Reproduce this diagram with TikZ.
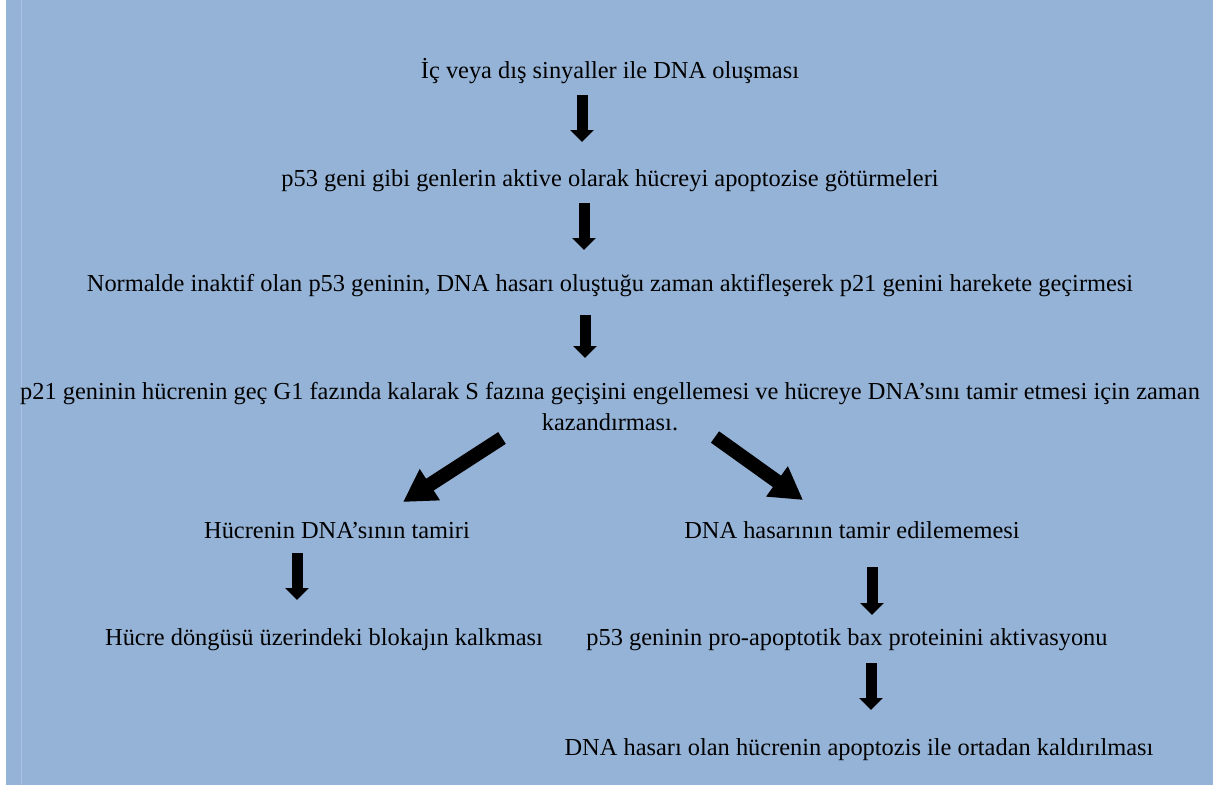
\documentclass[tikz,border=0pt]{standalone}
\usepackage{fontspec}
\setmainfont{Liberation Serif}
\usetikzlibrary{arrows.meta,calc}
\definecolor{panel}{HTML}{95B3D7}

\begin{document}
\begin{tikzpicture}[x=0.5pt,y=-0.5pt,
  txt/.style={anchor=base,inner sep=0pt,font=\fontsize{12.2}{15.5}\selectfont},
  blk/.style={line width=5.5pt,-{Triangle[width=11.5pt,length=6pt]}},
  bigblk/.style={line width=7pt,-{Triangle[width=17.5pt,length=16pt]}}]
\useasboundingbox (0,0) rectangle (1220,787);
\fill[panel] (6,0) rectangle (1213,785);
\draw[panel!80!white,line width=0.6pt] (21.5,0) -- (21.5,785);

\node[txt] (sig) at (610,78) {İç veya dış sinyaller ile DNA oluşması};
\node[txt] (gen) at (610,186) {p53 geni gibi genlerin aktive olarak hücreyi apoptozise götürmeleri};
\node[txt] (p53) at (610,291) {Normalde inaktif olan p53 geninin, DNA hasarı oluştuğu zaman aktifleşerek p21 genini harekete geçirmesi};
\node[txt,align=center] (p21) at (610,430) {p21 geninin hücrenin geç G1 fazında kalarak S fazına geçişini engellemesi ve hücreye DNA’sını tamir etmesi için zaman\\kazandırması.};
\node[txt] (tam) at (337,538) {Hücrenin DNA’sının tamiri};
\node[txt] (has) at (852,538) {DNA hasarının tamir edilememesi};
\node[txt] (blok) at (324,645) {Hücre döngüsü üzerindeki blokajın kalkması};
\node[txt] (bax) at (847,645) {p53 geninin pro-apoptotik bax proteinini aktivasyonu};
\node[txt] (apo) at (859,755) {DNA hasarı olan hücrenin apoptozis ile ortadan kaldırılması};

% block arrows
\draw[blk] ($(sig.base)+(-28,17)$) -- ($(gen.base)+(-28,-44)$);
\draw[blk] ($(gen.base)+(-26,17)$) -- ($(p53.base)+(-26,-41)$);
\draw[blk] ($(p53.base)+(-25,24)$) -- ($(p21.base)+(-25,-72)$);
\draw[bigblk] ($(p21.base)+(-108,8)$) -- ($(tam.base)+(66,-36)$);
\draw[bigblk] ($(p21.base)+(105,7)$) -- ($(has.base)+(-49,-38)$);
\draw[blk] ($(tam.base)+(-40,15)$) -- ($(blok.base)+(-27,-45)$);
\draw[blk] ($(has.base)+(20,29)$) -- ($(bax.base)+(25,-30)$);
\draw[blk] ($(bax.base)+(24,18)$) -- ($(apo.base)+(12,-45)$);
\end{tikzpicture}
\end{document}
